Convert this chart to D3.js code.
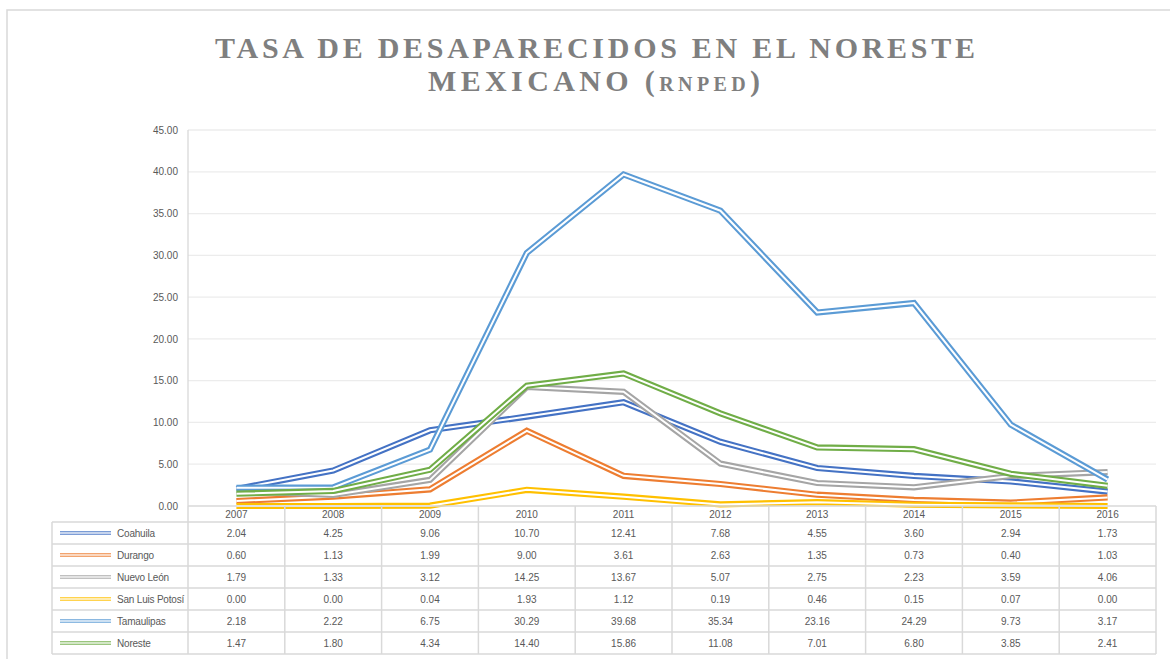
<!DOCTYPE html>
<html>
<head>
<meta charset="utf-8">
<script src="https://cdn.jsdelivr.net/npm/d3@7"></script>
<style>
  body { margin: 0; background: #fff; }
  svg { display: block; }
</style>
</head>
<body>
<div id="chart"></div>
<script>
/* ---------------------- Data ---------------------- */
var years = ["2007", "2008", "2009", "2010", "2011", "2012", "2013", "2014", "2015", "2016"];
var states = ["Coahuila", "Durango", "Nuevo León", "San Luis Potosí", "Tamaulipas", "Noreste"];
var coahuila   = [2.04, 4.25, 9.06, 10.70, 12.41, 7.68, 4.55, 3.60, 2.94, 1.73];
var durango    = [0.60, 1.13, 1.99, 9.00, 3.61, 2.63, 1.35, 0.73, 0.40, 1.03];
var nuevoLeon  = [1.79, 1.33, 3.12, 14.25, 13.67, 5.07, 2.75, 2.23, 3.59, 4.06];
var sanLuis    = [0.00, 0.00, 0.04, 1.93, 1.12, 0.19, 0.46, 0.15, 0.07, 0.00];
var tamaulipas = [2.18, 2.22, 6.75, 30.29, 39.68, 35.34, 23.16, 24.29, 9.73, 3.17];
var noreste    = [1.47, 1.80, 4.34, 14.40, 15.86, 11.08, 7.01, 6.80, 3.85, 2.41];
var yTicks = [0, 5, 10, 15, 20, 25, 30, 35, 40, 45];

var seriesValues = [coahuila, durango, nuevoLeon, sanLuis, tamaulipas, noreste];
var colors = ["#4472C4", "#ED7D31", "#A5A5A5", "#FFC000", "#5B9BD5", "#70AD47"];

/* ---------------------- Layout ---------------------- */
var W = 1170, H = 659;
var plot = {left: 188, right: 1156, top: 130, bottom: 506};
var headerH = 16, rowH = 22, legendLeft = 52;
var gridColor = "#ececec", tableColor = "#d9d9d9", textColor = "#595959";
var font = "'Liberation Sans', Arial, sans-serif";

var svg = d3.select("#chart").append("svg")
    .attr("width", W)
    .attr("height", H);

// Chart frame
svg.append("rect")
    .attr("x", 7).attr("y", 10)
    .attr("width", W + 20).attr("height", H + 20)
    .attr("fill", "none")
    .attr("stroke", tableColor)
    .attr("stroke-width", 1.5);

// Title
var title = svg.append("g")
    .attr("font-family", "'Liberation Serif', 'Times New Roman', serif")
    .attr("font-weight", "bold")
    .attr("fill", "#7f7f7f")
    .attr("text-anchor", "middle");

title.append("text")
    .attr("x", 595).attr("y", 58)
    .attr("font-size", 30)
    .attr("textLength", 760)
    .attr("lengthAdjust", "spacing")
    .text("TASA DE DESAPARECIDOS EN EL NORESTE");

var t2 = title.append("text")
    .attr("x", 594).attr("y", 91)
    .attr("font-size", 30)
    .attr("textLength", 332)
    .attr("lengthAdjust", "spacing");
t2.append("tspan").text("MEXICANO (");
t2.append("tspan").attr("font-size", 20).text("RNPED");
t2.append("tspan").text(")");

/* ---------------------- Scales ---------------------- */
var xScale = d3.scaleBand()
    .domain(years)
    .range([plot.left, plot.right]);

var yScale = d3.scaleLinear()
    .domain([0, 45])
    .range([plot.bottom, plot.top]);

// Gridlines
svg.append("g")
    .selectAll("line")
    .data(yTicks.slice(1))
    .enter()
    .append("line")
    .attr("x1", plot.left).attr("x2", plot.right)
    .attr("y1", d => yScale(d)).attr("y2", d => yScale(d))
    .attr("stroke", gridColor)
    .attr("stroke-width", 1.3);

// Left plot edge
svg.append("line")
    .attr("x1", plot.left).attr("x2", plot.left)
    .attr("y1", plot.top).attr("y2", plot.bottom)
    .attr("stroke", tableColor)
    .attr("stroke-width", 1.3);

// Y axis labels
var yAxis = d3.axisLeft(yScale)
    .tickValues(yTicks)
    .tickSize(0)
    .tickPadding(10)
    .tickFormat(d3.format(".2f"));

var gy = svg.append("g")
    .attr("transform", `translate(${plot.left}, 0)`)
    .call(yAxis);
gy.select(".domain").remove();
gy.selectAll("text")
    .attr("font-family", font)
    .attr("font-size", 10)
    .attr("fill", textColor);

/* ---------------------- Lines ---------------------- */
var line = d3.line()
    .x((d, i) => xScale(years[i]) + xScale.bandwidth() / 2)
    .y(d => yScale(d));

var gLines = svg.append("g").attr("fill", "none").attr("stroke-linejoin", "miter");
seriesValues.forEach((vals, i) => {
    gLines.append("path")
        .attr("d", line(vals))
        .attr("stroke", colors[i])
        .attr("stroke-width", 6.2);
    gLines.append("path")
        .attr("d", line(vals))
        .attr("stroke", "#fff")
        .attr("stroke-width", 2);
});

/* ---------------------- Data table ---------------------- */
var table = svg.append("g");
var tableTop = plot.bottom;
var tableBottom = tableTop + headerH + rowH * states.length;

// Horizontal borders
var hLines = [{y: tableTop, x1: plot.left}, {y: tableTop + headerH, x1: legendLeft}];
states.forEach((s, i) => hLines.push({y: tableTop + headerH + rowH * (i + 1), x1: legendLeft}));
table.selectAll("line.h")
    .data(hLines)
    .enter()
    .append("line")
    .attr("class", "h")
    .attr("x1", d => d.x1).attr("x2", plot.right)
    .attr("y1", d => d.y).attr("y2", d => d.y)
    .attr("stroke", tableColor)
    .attr("stroke-width", 1.5);

// Vertical borders
var vLines = [{x: legendLeft, y1: tableTop + headerH}];
years.forEach(y => vLines.push({x: xScale(y), y1: tableTop}));
vLines.push({x: plot.right, y1: tableTop});
table.selectAll("line.v")
    .data(vLines)
    .enter()
    .append("line")
    .attr("class", "v")
    .attr("x1", d => d.x).attr("x2", d => d.x)
    .attr("y1", d => d.y1).attr("y2", tableBottom)
    .attr("stroke", tableColor)
    .attr("stroke-width", 1.5);

// Year header
table.selectAll("text.year")
    .data(years)
    .enter()
    .append("text")
    .attr("class", "year")
    .attr("x", d => xScale(d) + xScale.bandwidth() / 2)
    .attr("y", tableTop + headerH - 4)
    .attr("text-anchor", "middle")
    .attr("font-family", font)
    .attr("font-size", 10)
    .attr("fill", textColor)
    .text(d => d);

// Rows
var rows = table.selectAll("g.row")
    .data(states)
    .enter()
    .append("g")
    .attr("class", "row")
    .attr("transform", (d, i) => `translate(0, ${tableTop + headerH + rowH * i + rowH / 2})`);

rows.append("line")
    .attr("x1", 60).attr("x2", 111)
    .attr("y1", -1.2).attr("y2", -1.2)
    .attr("stroke", (d, i) => colors[i])
    .attr("stroke-width", 1);
rows.append("line")
    .attr("x1", 60).attr("x2", 111)
    .attr("y1", 1.2).attr("y2", 1.2)
    .attr("stroke", (d, i) => colors[i])
    .attr("stroke-width", 1);

rows.append("text")
    .attr("x", 117)
    .attr("y", 4)
    .attr("font-family", font)
    .attr("font-size", 10)
    .attr("letter-spacing", -0.2)
    .attr("fill", textColor)
    .text(d => d);

rows.selectAll("text.val")
    .data((d, i) => seriesValues[i])
    .enter()
    .append("text")
    .attr("class", "val")
    .attr("x", (d, j) => xScale(years[j]) + xScale.bandwidth() / 2)
    .attr("y", 4)
    .attr("text-anchor", "middle")
    .attr("font-family", font)
    .attr("font-size", 10)
    .attr("fill", textColor)
    .text(d => d3.format(".2f")(d));
</script>
</body>
</html>
